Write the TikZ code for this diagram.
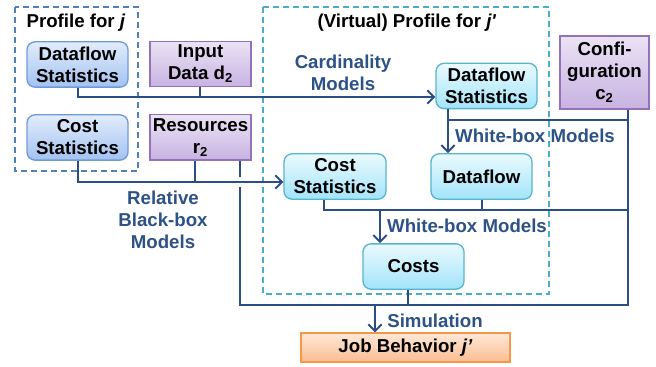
\documentclass[tikz,border=0pt]{standalone}
\usepackage{fontspec}
\setmainfont{Liberation Sans}
\usetikzlibrary{arrows.meta}

\definecolor{wire}{HTML}{2B4F85}
\definecolor{lbl}{HTML}{2C5286}
\definecolor{blueTop}{HTML}{E2ECFB}
\definecolor{blueBot}{HTML}{A3C2F1}
\definecolor{blueEdge}{HTML}{6E9BD8}
\definecolor{cyanTop}{HTML}{EAFAFE}
\definecolor{cyanBot}{HTML}{A3E4FA}
\definecolor{cyanEdge}{HTML}{58B4CF}
\definecolor{purTop}{HTML}{EBE3F4}
\definecolor{purBot}{HTML}{C8B2E2}
\definecolor{purEdge}{HTML}{9472B8}
\definecolor{orTop}{HTML}{FEE8D8}
\definecolor{orBot}{HTML}{FBBE92}
\definecolor{orEdge}{HTML}{F79646}
\definecolor{frameL}{HTML}{4F81BD}
\definecolor{frameR}{HTML}{4BACC6}

\tikzset{
  box/.style={align=center, inner sep=0pt, line width=1pt,
    minimum width=75.75pt, minimum height=34pt},
  bluebox/.style={box, rounded corners=6pt, draw=blueEdge, top color=blueTop, bottom color=blueBot},
  cyanbox/.style={box, rounded corners=6pt, draw=cyanEdge, top color=cyanTop, bottom color=cyanBot},
  purbox/.style={box, draw=purEdge, top color=purTop, bottom color=purBot},
  orbox/.style={box, draw=orEdge, top color=orTop, bottom color=orBot},
  wireline/.style={draw=wire, line width=1.5pt},
  arr/.style={wireline, -{Straight Barb[length=5pt,width=10pt,line width=1.5pt]}},
  frame/.style={line width=1.5pt, dash pattern=on 4.5pt off 3pt},
  model/.style={text=lbl, align=center},
}

\begin{document}
\begin{tikzpicture}[x=0.75pt,y=-0.75pt,
  font=\fontsize{14}{16.5}\selectfont\bfseries]
\useasboundingbox (0,0) rectangle (656,367);

% profile frames
\draw[frame, draw=frameL] (15,7) rectangle (138,171);
\draw[frame, draw=frameR] (263,7) rectangle (549,294);
\node (tL) at (76,23) {Profile for \textit{j}};
\node (tR) at (407,23) {(Virtual) Profile for \textit{j\textquotesingle}};

% boxes
\node[bluebox] (dsL) at (77.5,64.5) {Dataflow\\Statistics};
\node[bluebox] (csL) at (77.5,137.5) {Cost\\Statistics};
\node[purbox] (inp) at (200.5,64) {Input\\Data d\textsubscript{2}};
\node[purbox] (res) at (200.5,137.5) {Resources\\r\textsubscript{2}};
\node[purbox, minimum width=66.75pt, minimum height=54.75pt] (conf) at (604.5,72.5) {Confi-\\guration\\c\textsubscript{2}};
\node[cyanbox] (dsR) at (486.5,86) {Dataflow\\Statistics};
\node[cyanbox] (df) at (481.5,176.5) {Dataflow};
\node[cyanbox, minimum width=76.5pt] (csM) at (335,176.5) {Cost\\Statistics};
\node[cyanbox] (costs) at (413.5,266.5) {Costs};
\node[orbox, minimum width=156.75pt, minimum height=21.75pt] (job) at (405.5,347.5) {Job Behavior \textit{j’}};

% junction points
\coordinate (busA) at (200,97);
\coordinate (busB) at (195,182);
\coordinate (bl) at (240,305);
\coordinate (br) at (628,305);
\coordinate (gapT) at (240,177);
\coordinate (gapB) at (240,187);
\coordinate (wx) at (448,120);
\coordinate (cm) at (324,210);
\coordinate (cc) at (380,210);
\coordinate (ce) at (408,305);
\coordinate (sj) at (375,305);

% cardinality models
\draw[wireline] (inp.south -| busA) -- (busA);
\draw[arr] (dsL.south) |- (dsR.west |- busA);
\node[model] (mCard) at (343,73) {Cardinality\\Models};

% relative black-box models
\draw[wireline] (busB |- res.south) -- (busB);
\draw[arr] (csL.south) |- (csM.west |- busB);
\node[model, text depth=0pt] (mRel) at (163,220) {Relative\\Black-box\\Models};

% resources and configuration feed the simulation
\draw[wireline] (bl |- res.south) -- (gapT);
\draw[wireline] (gapB) -- (bl) -- (br) -- (br |- conf.south);

% white-box models for dataflow
\draw[arr] (wx |- dsR.south) -- (wx |- df.north);
\draw[wireline] (wx) -- (wx -| br);
\node[model] (mWb1) at (535,136) {White-box Models};

% white-box models for costs
\draw[wireline] (cm |- csM.south) -- (cm) -- (cm -| br);
\draw[wireline] (df.south) -- (df.south |- cm);
\draw[arr] (cc) -- (cc |- costs.north);
\node[model] (mWb2) at (467,226) {White-box Models};

% simulation
\draw[wireline] (ce |- costs.south) -- (ce);
\draw[arr] (sj) -- (sj |- job.north);
\node[model] (mSim) at (435,321) {Simulation};
\end{tikzpicture}
\end{document}
